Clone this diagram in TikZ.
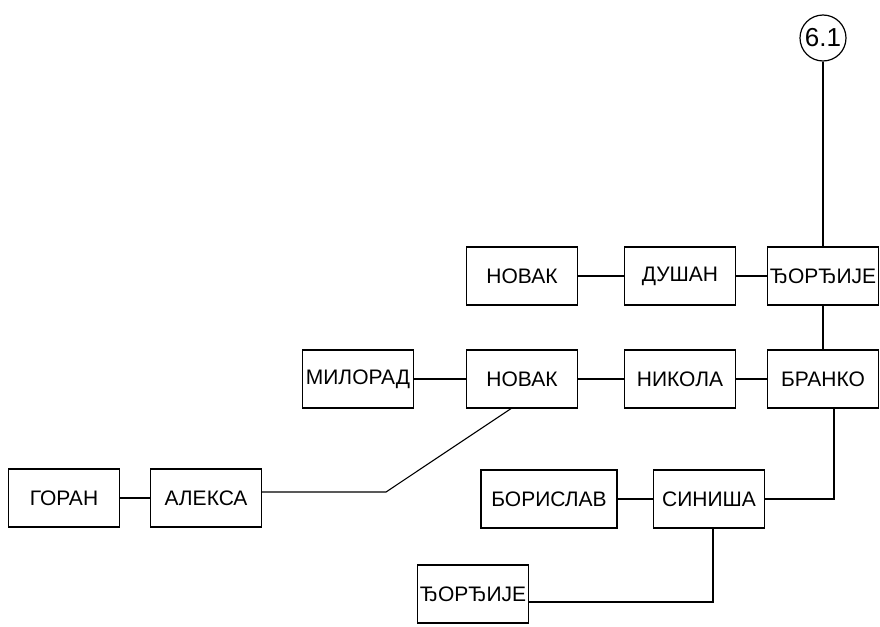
\documentclass[tikz,border=0pt]{standalone}
\usepackage{fontspec}
\setmainfont{Liberation Sans}
\usetikzlibrary{calc}
\tikzset{
    person/.style={draw, line width=1.2pt, minimum width=111pt, minimum height=58pt, inner sep=0pt, font=\fontsize{21}{24}\selectfont},
    ref/.style={draw, circle, line width=1.2pt, minimum size=46pt, inner sep=0pt, font=\fontsize{26}{28}\selectfont},
    link/.style={line width=1.1pt}
}
\begin{document}
\begin{tikzpicture}[x=1pt, y=-1pt]
    \useasboundingbox (0,0) rectangle (880,626);

    \node[ref]    (ref)      at (823, 38)    {6.1};

    \node[person] (novak-t)  at (522,276)    {НОВАК};
    \node[person] (dusan)    at (680,276)    {ДУШАН};
    \node[person] (djordje-t) at (823,276)   {ЂОРЂИЈЕ};

    \node[person] (milorad)  at (358,379)    {МИЛОРАД};
    \node[person] (novak-m)  at (522,379)    {НОВАК};
    \node[person] (nikola)   at (680,379)    {НИКОЛА};
    \node[person] (branko)   at (823,379)    {БРАНКО};

    \node[person] (goran)    at ( 64,498)    {ГОРАН};
    \node[person] (aleksa)   at (206,498)    {АЛЕКСА};
    \node[person, minimum width=136pt] (borislav) at (549,499) {БОРИСЛАВ};
    \node[person] (sinisa)   at (709,499)    {СИНИША};

    \node[person] (djordje-b) at (473,594)   {ЂОРЂИЈЕ};

    \draw[link] (novak-t) -- (dusan) -- (djordje-t);
    \draw[link] (ref) -- (djordje-t) -- (branko);
    \foreach \x/\y in {milorad/novak-m, novak-m/nikola, nikola/branko, goran/aleksa, borislav/sinisa}{
        \draw[link] (\x) -- (\y);
        };
    \draw[link] ($(aleksa.east)+(0,-6)$) -- (386,492) -- ($(novak-m.south)+(-11,0)$);
    \draw[link] (sinisa.east) -| ($(branko.south)+(11,0)$);
    \draw[link] ($(djordje-b.east)+(0,8)$) -| ($(sinisa.south)+(4,0)$);
\end{tikzpicture}
\end{document}
